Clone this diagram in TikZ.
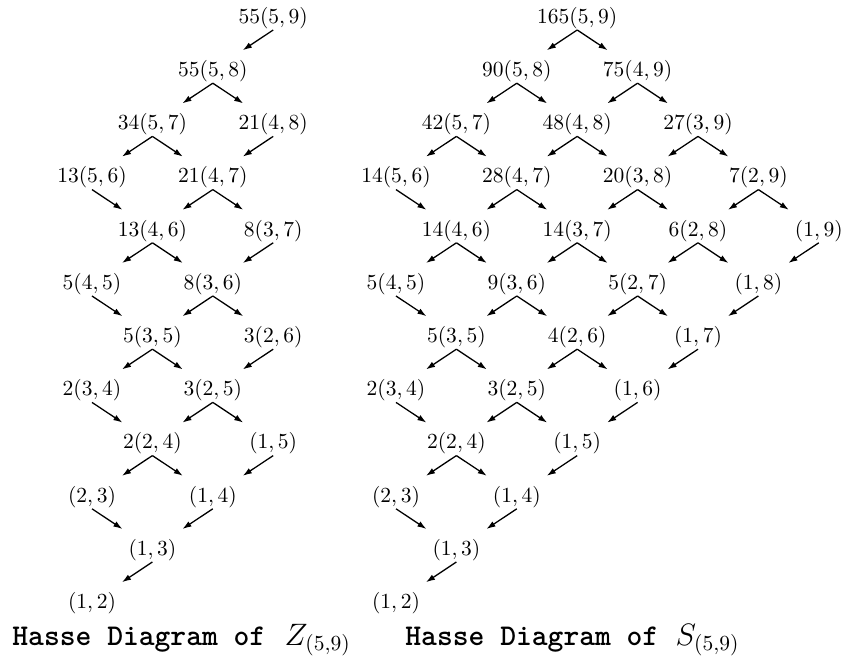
\documentclass[tikz,border=0pt]{standalone}
\usetikzlibrary{calc,arrows.meta}
\begin{document}
\begin{tikzpicture}[x=0.465pt,y=-0.465pt,
  lbl/.style={inner sep=0pt, font=\fontsize{10}{12}\selectfont},
  ttl/.style={inner sep=0pt, anchor=base west, font=\fontsize{14}{17}\selectfont},
  hasse/.style={line width=0.6pt, -{Latex[length=4.2pt,width=2.8pt]}}]
\useasboundingbox (0,0) rectangle (841,658);

% Z_(5,9): node (a,b) sits in column b-a-1, row 14-a-b
\foreach \a/\b/\v in {5/9/55, 5/8/55, 5/7/34, 4/8/21, 5/6/13, 4/7/21, 4/6/13, 3/7/8,
    4/5/5, 3/6/8, 3/5/5, 2/6/3, 3/4/2, 2/5/3, 2/4/2, 1/5/{}, 2/3/{}, 1/4/{}, 1/3/{}, 1/2/{}}
  \node[lbl] (z\a\b) at ({92+60.4*(\b-\a-1)}, {18+53.2*(14-\a-\b)}) {$\v(\a,\b)$};

% S_(5,9)
\foreach \a/\b/\v in {5/9/165, 5/8/90, 4/9/75, 5/7/42, 4/8/48, 3/9/27, 5/6/14, 4/7/28,
    3/8/20, 2/9/7, 4/6/14, 3/7/14, 2/8/6, 1/9/{}, 4/5/5, 3/6/9, 2/7/5, 1/8/{}, 3/5/5,
    2/6/4, 1/7/{}, 3/4/2, 2/5/3, 1/6/{}, 2/4/2, 1/5/{}, 2/3/{}, 1/4/{}, 1/3/{}, 1/2/{}}
  \node[lbl] (s\a\b) at ({396+60.4*(\b-\a-1)}, {18+53.2*(14-\a-\b)}) {$\v(\a,\b)$};

% covering relations of Z: (a,b) -> (a,b-1) and (a,b) -> (a-1,b)
\foreach \a/\b in {5/9, 5/8, 5/7, 4/8, 5/6, 4/7, 4/6, 3/7, 4/5, 3/6, 3/5, 2/6, 3/4, 2/5,
    2/4, 1/5, 2/3, 1/4, 1/3}{
  \pgfmathtruncatemacro\bm{\b-1}
  \pgfmathtruncatemacro\am{\a-1}
  \ifnum\bm>\a
    \draw[hasse] ($(z\a\b)+(0,12)$) -- ($(z\a\bm)+(30,-21)$);
  \fi
  \ifnum\am>0
    \ifnum\numexpr\b-\am\relax<5
      \draw[hasse] ($(z\a\b)+(0,12)$) -- ($(z\am\b)+(-30,-21)$);
    \fi
  \fi
}

% covering relations of S
\foreach \a/\b in {5/9, 5/8, 4/9, 5/7, 4/8, 3/9, 5/6, 4/7, 3/8, 2/9, 4/6, 3/7, 2/8, 1/9,
    4/5, 3/6, 2/7, 1/8, 3/5, 2/6, 1/7, 3/4, 2/5, 1/6, 2/4, 1/5, 2/3, 1/4, 1/3}{
  \pgfmathtruncatemacro\bm{\b-1}
  \pgfmathtruncatemacro\am{\a-1}
  \ifnum\bm>\a
    \draw[hasse] ($(s\a\b)+(0,12)$) -- ($(s\a\bm)+(30,-21)$);
  \fi
  \ifnum\am>0
    \draw[hasse] ($(s\a\b)+(0,12)$) -- ($(s\am\b)+(-30,-21)$);
  \fi
}

% captions
\node[ttl] (tz) at (12,645) {\texttt{\bfseries Hasse Diagram of}\hspace{9pt}$Z_{(5,9)}$};
\node[ttl] (ts) at (405,645) {\texttt{\bfseries Hasse Diagram of}\hspace{8pt}$S_{(5,9)}$};
\end{tikzpicture}
\end{document}
